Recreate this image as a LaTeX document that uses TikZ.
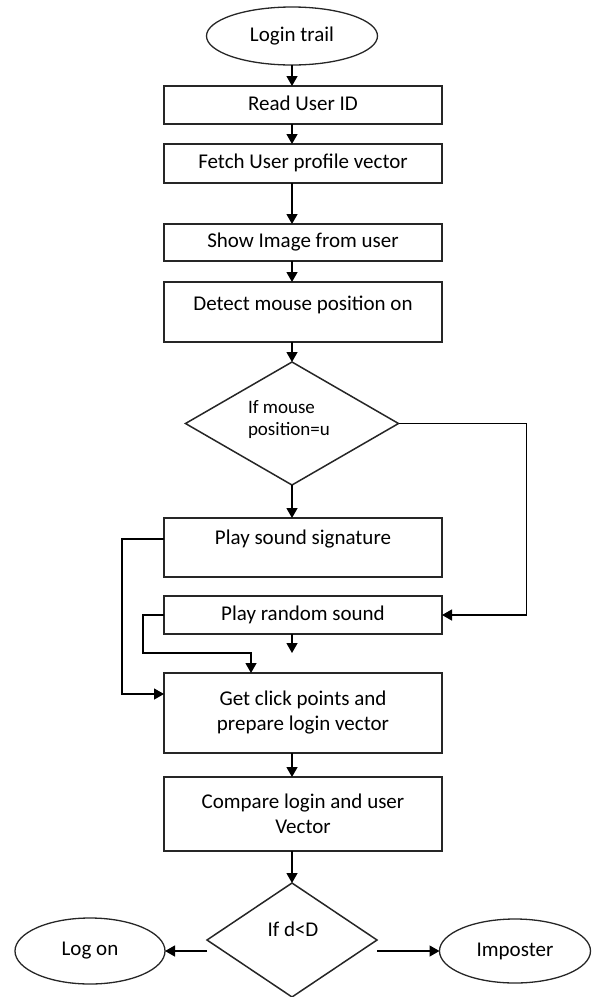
\documentclass[tikz,border=0pt]{standalone}
\usepackage{fontspec}
\setmainfont{Carlito}
\usetikzlibrary{shapes.geometric,arrows.meta}
\begin{document}
\begin{tikzpicture}[x=1pt,y=-1pt,
  every node/.style={font=\fontsize{21}{25}\selectfont, inner sep=0pt, outer sep=0pt},
  box/.style={draw=black!85, line width=1.3pt, minimum width=278pt, align=center},
  one/.style={text height=14pt, text depth=4pt},
  oval/.style={draw=black!85, line width=1.3pt, ellipse},
  dia/.style={draw=black!85, line width=1.5pt, diamond},
  arr/.style={line width=1.3pt, -{Triangle[length=10pt,width=11pt]}}]
\useasboundingbox (0,0) rectangle (593,997);
% nodes
\node[oval, minimum width=171pt, minimum height=58pt] (login) at (292,36) {Login trail};
\node[box, one, minimum height=38pt] (read) at (303,105) {Read User ID};
\node[box, one, minimum height=39pt] (fetch) at (303,163.5) {Fetch User profile vector};
\node[box, one, minimum height=37pt] (show) at (303,242.5) {Show Image from user};
\node[box, minimum height=60pt] (detect) at (303,312) {};
\node[one] (detecttxt) at (303,305) {Detect mouse position on};
\node[dia, minimum width=213pt, minimum height=123pt] (dec1) at (292,423.5) {};
\node[align=left, anchor=west, font=\fontsize{19}{22}\selectfont] (dec1txt) at (248,420) {If mouse\\position=u};
\node[box, minimum height=59pt] (sig) at (303,547.5) {};
\node[one] (sigtxt) at (303,539) {Play sound signature};
\node[box, one, minimum height=38pt] (random) at (303,615) {Play random sound};
\node[box, minimum height=80pt] (click) at (303,713) {Get click points and\\prepare login vector};
\node[box, minimum height=74pt] (compare) at (303,814) {Compare login and user\\Vector};
\node[dia, minimum width=170pt, minimum height=114pt] (dec2) at (292,940) {};
\node[one] (dec2txt) at (293,931) {If d<D};
\node[oval, minimum width=150pt, minimum height=66pt] (logon) at (90,951) {Log on};
\node[oval, minimum width=151pt, minimum height=64pt] (imposter) at (515,951) {Imposter};
\coordinate (dangle) at (292,653);
% connectors
\draw[arr] (login.south) -- (login.south |- read.north);
\draw[arr] (read.south -| login) -- (fetch.north -| login);
\draw[arr] (fetch.south -| login) -- (show.north -| login);
\draw[arr] (show.south -| login) -- (detect.north -| login);
\draw[arr] (detect.south -| dec1) -- (dec1.north);
\draw[arr] (dec1.south) -- (sig.north -| dec1);
\draw[arr] (dec1.east) -- ++(128,0) |- (random.east);
\draw[arr] (sig.west |- sigtxt) -- ++(-42,0) |- ([yshift=19pt]click.west);
\draw[arr] (random.west) -- ++(-21,0) -- ++(0,38) -| ([xshift=-52pt]click.north);
\draw[arr] (random.south -| dangle) -- (dangle);
\draw[arr] (click.south -| login) -- (compare.north -| login);
\draw[arr] (compare.south -| dec2) -- (dec2.north);
\draw[arr] (dec2.west |- logon.east) -- (logon.east);
\draw[arr] (dec2.east |- imposter.west) -- (imposter.west);
\end{tikzpicture}
\end{document}
